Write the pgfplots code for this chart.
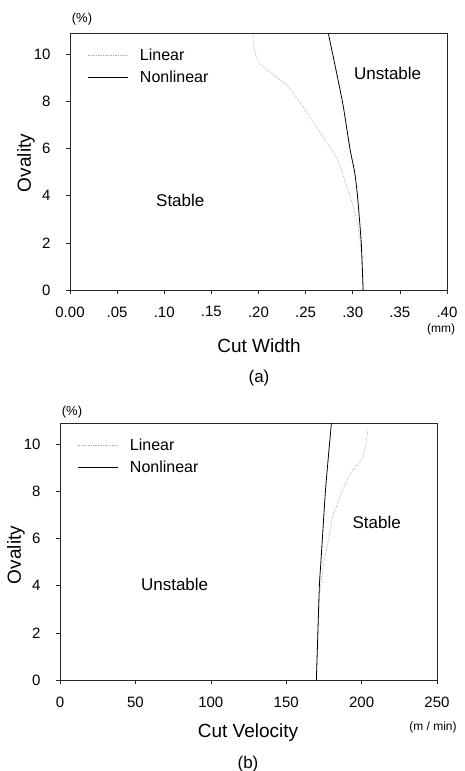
\documentclass[border=0pt]{standalone}
\usepackage{pgfplots}
\pgfplotsset{compat=1.18}
\usepackage{fontspec}
\setmainfont{Liberation Sans}
\pgfplotsset{myax/.style={
  scale only axis, width=377pt, height=257pt,
  axis line style={line width=0.6pt, black!85},
  tick style={black!85, line width=0.6pt},
  tick align=outside, major tick length=4pt,
  xtick pos=bottom, ytick pos=left,
  ticklabel style={font=\fontsize{15}{15}\selectfont},
  /pgf/number format/assume math mode=true,
  ymin=0, ymax=10.9, ytick={0,2,4,6,8,10},
  xticklabel style={yshift=-9pt},
  yticklabel style={xshift=-12pt},
  legend style={draw=none, fill=none, font=\fontsize{16}{16}\selectfont, anchor=north west, row sep=5pt, inner sep=0pt,
    /tikz/every odd column/.append style={column sep=10pt}},
  legend cell align=left,
  legend image code/.code={\draw[##1] (0pt,0pt) -- (40pt,0pt);},
  lin/.style={gray!65, densely dotted, line width=0.7pt, smooth, tension=0.4},
  nonlin/.style={black, line width=0.8pt, smooth, tension=0.4},
}}
\begin{document}
\begin{tikzpicture}
\path[use as bounding box] (0pt,0pt) rectangle (464pt,771pt);
% ---------- (a) ----------
\begin{axis}[myax, at={(70pt,481pt)}, anchor=south west,
  xmin=0, xmax=0.4, xtick={0,0.05,0.1,0.15,0.2,0.25,0.3,0.35,0.4},
  xticklabels={0.00,.05,.10,.15,.20,.25,.30,.35,.40},
  legend style={at={(0.045,0.948)}}]
\addplot[lin] coordinates {(0.311,0) (0.310,1) (0.308,2) (0.305,2.8) (0.300,3.6) (0.292,4.6) (0.283,5.6) (0.265,6.7) (0.251,7.54) (0.233,8.56) (0.220,9.0) (0.210,9.3) (0.203,9.55) (0.198,9.85) (0.195,10.3) (0.194,10.9)};
\addlegendentry{Linear}
\addplot[nonlin] coordinates {(0.311,0) (0.309,2) (0.305,4) (0.302,5) (0.297,6) (0.289,8) (0.274,10.9)};
\addlegendentry{Nonlinear}
\node[font=\fontsize{17}{17}\selectfont] at (axis cs:0.337,9.2) {Unstable};
\node[font=\fontsize{17}{17}\selectfont] at (axis cs:0.117,3.8) {Stable};
\end{axis}
\node[font=\fontsize{13}{13}\selectfont] at (82pt,752pt) {(\%)};
\node[font=\fontsize{12}{12}\selectfont] at (441pt,442pt) {(mm)};
\node[font=\fontsize{19}{19}\selectfont] at (259pt,425pt) {Cut Width};
\node[font=\fontsize{17}{17}\selectfont] at (259pt,393pt) {(a)};
\node[font=\fontsize{19}{19}\selectfont, rotate=90] at (26pt,608pt) {Ovality};
% ---------- (b) ----------
\begin{axis}[myax, at={(60pt,91pt)}, anchor=south west,
  xmin=0, xmax=250, xtick={0,50,100,150,200,250},
  legend style={at={(0.045,0.948)}}]
\addplot[lin] coordinates {(170,0) (171,2) (172,3.5) (173.5,4.3) (175,5) (178,5.9) (181,7) (183,7.3) (185,7.66) (187,8) (190,8.4) (193,8.8) (199.6,9.3) (201,9.45) (203,10.0) (204,10.6)};
\addlegendentry{Linear}
\addplot[nonlin] coordinates {(170,0) (171,2) (172,4) (173,5) (174,6) (176,8) (178,9.5) (180,10.9)};
\addlegendentry{Nonlinear}
\node[font=\fontsize{17}{17}\selectfont] at (axis cs:76,4.04) {Unstable};
\node[font=\fontsize{17}{17}\selectfont] at (axis cs:210,6.7) {Stable};
\end{axis}
\node[font=\fontsize{13}{13}\selectfont] at (72pt,359pt) {(\%)};
\node[font=\fontsize{12}{12}\selectfont] at (433pt,44pt) {(m / min)};
\node[font=\fontsize{19}{19}\selectfont] at (248pt,38pt) {Cut Velocity};
\node[font=\fontsize{17}{17}\selectfont] at (248pt,7pt) {(b)};
\node[font=\fontsize{19}{19}\selectfont, rotate=90] at (16pt,216pt) {Ovality};
\end{tikzpicture}
\end{document}
